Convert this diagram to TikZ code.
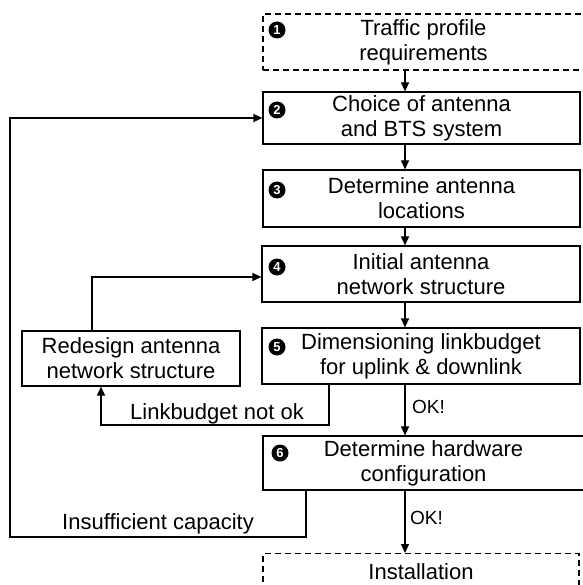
\documentclass[tikz,border=0pt]{standalone}
\usepackage{fontspec}
\setmainfont{Liberation Sans}
\usetikzlibrary{arrows.meta}
\begin{document}
\begin{tikzpicture}[x=1pt,y=-1pt,
  box/.style={draw, line width=1.2pt, rectangle, align=center, inner sep=0pt, font=\fontsize{22}{25}\selectfont},
  dbox/.style={box, dash pattern=on 6pt off 4pt},
  num/.style={circle, fill=black, inner sep=0pt, minimum size=17pt, text=white, font=\bfseries\fontsize{13}{13}\selectfont},
  arr/.style={line width=1.2pt, -{Triangle[length=9pt,width=8pt]}},
  lbl/.style={font=\fontsize{22}{25}\selectfont, inner sep=0pt},
  ok/.style={font=\fontsize{19}{22}\selectfont, inner sep=0pt, anchor=west}]
\useasboundingbox (0,0) rectangle (582,585);
% boxes
\node[dbox, minimum width=321pt, minimum height=56pt] (b1) at (423.5,42) {Traffic profile\\requirements};
\node[box, minimum width=317pt, minimum height=52pt] (b2) at (421.5,118) {Choice of antenna\\and BTS system};
\node[box, minimum width=317pt, minimum height=57pt] (b3) at (421.5,198.5) {Determine antenna\\locations};
\node[box, minimum width=318pt, minimum height=56pt] (b4) at (421,274) {Initial antenna\\network structure};
\node[box, minimum width=318pt, minimum height=56pt] (b5) at (421,356) {Dimensioning linkbudget\\for uplink \& downlink};
\node[box, minimum width=218pt, minimum height=55pt] (rd) at (131,358.5) {Redesign antenna\\network structure};
\node[box, minimum width=321pt, minimum height=54pt] (b6) at (423.5,463) {Determine hardware\\configuration};
\node[dbox, minimum width=316pt, minimum height=36pt, anchor=north] (inst) at (421,553) {Installation};
% numbers
\node[num] (n1) at (277,30) {1};
\node[num] (n2) at (277,110) {2};
\node[num] (n3) at (277,190) {3};
\node[num] (n4) at (277,267) {4};
\node[num] (n5) at (277,347) {5};
\node[num] (n6) at (280,453) {6};
% helper coordinates
\coordinate (xa) at (405,0);
\coordinate (xl) at (329,0);
\coordinate (cb) at (101,425);
\coordinate (xu) at (92,0);
\coordinate (xi) at (306,0);
\coordinate (cl) at (10,537);
% main flow
\draw[arr] (b1.south -| xa) -- (b2.north -| xa);
\draw[arr] (b2.south -| xa) -- (b3.north -| xa);
\draw[arr] (b3.south -| xa) -- (b4.north -| xa);
\draw[arr] (b4.south -| xa) -- (b5.north -| xa);
\draw[arr] (b5.south -| xa) -- (b6.north -| xa);
\draw[arr] (b6.south -| xa) -- (inst.north -| xa);
% feedback loops
\draw[arr] (b5.south -| xl) |- (cb) -- (rd.south -| cb);
\draw[arr] (rd.north -| xu) |- ([yshift=-3pt]b4.west);
\draw[arr] (b6.south -| xi) |- (cl) |- (b2.west);
% labels
\node[lbl] (t1) at (217,414) {Linkbudget not ok};
\node[lbl] (t2) at (158,524) {Insufficient capacity};
\node[ok] (ok1) at (412,407) {OK!};
\node[ok] (ok2) at (410,518) {OK!};
\end{tikzpicture}
\end{document}
